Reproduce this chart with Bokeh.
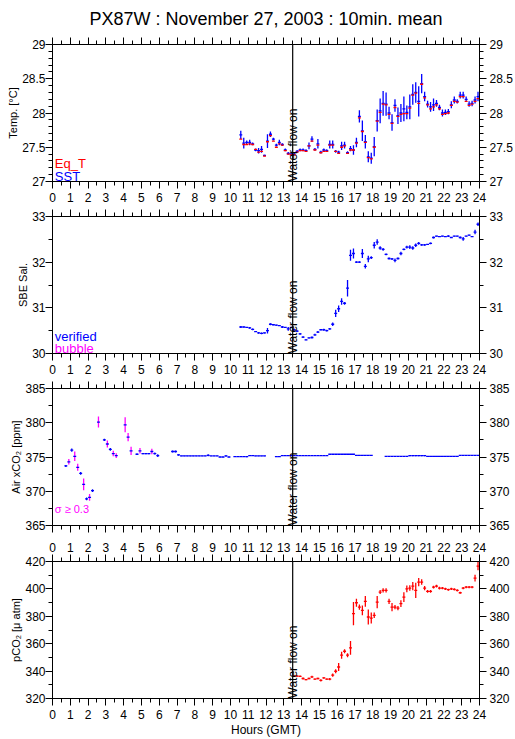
import numpy as np
from math import pi
from bokeh.plotting import figure
from bokeh.models import Range1d, LinearAxis, SingleIntervalTicker, Span, Label, ColumnDataSource
from bokeh.layouts import column
from bokeh.embed import file_html
from bokeh.resources import INLINE

# ---------------- data ----------------
TITLE = "PX87W : November 27, 2003 : 10min. mean"
X_LABEL = "Hours (GMT)"
HOURS = (0, 24)
WATER_ON = 13.5
WATER_TEXT = "Water flow on"
STEP_H = 1 / 6          # 10-minute means

# Panel 1 : temperature (SST blue with std, Eq_T red)
TEMP_START = 10.583
SST = [27.68, 27.56, 27.57, 27.57, 27.55, 27.46, 27.45, 27.47, 27.38, 27.59,
       27.69, 27.62, 27.53, 27.57, 27.54, 27.46, 27.41, 27.40,
       27.40, 27.44, 27.46, 27.46, 27.45, 27.52, 27.62, 27.47, 27.55, 27.43,
       27.46, 27.45, 27.54, 27.54, 27.44, 27.43, 27.52, 27.53, 27.42, 27.48,
       27.46, 27.57, 27.95, 27.74, 27.58, 27.36, 27.34, 27.51, 27.89, 28.03,
       28.14, 28.13, 28.00, 27.86, 28.11, 27.96, 28.00, 28.06, 28.01, 28.09,
       28.27, 28.30, 28.17, 28.43, 28.24, 28.13, 28.09, 28.12, 28.14, 28.08,
       28.00, 28.01, 28.02, 28.12, 28.19, 28.17, 28.26, 28.26, 28.20, 28.13,
       28.14, 28.19, 28.24]
SST_SD = [0.06, 0.08, 0.03, 0.04, 0.02, 0.02, 0.04, 0.05, 0.01, 0.10,
          0.04, 0.02, 0.02, 0.04, 0.02, 0.02, 0.02, 0.02,
          0.02, 0.02, 0.02, 0.02, 0.02, 0.05, 0.04, 0.02, 0.07, 0.02,
          0.02, 0.02, 0.06, 0.06, 0.02, 0.02, 0.06, 0.05, 0.02, 0.04,
          0.07, 0.07, 0.09, 0.15, 0.10, 0.08, 0.08, 0.14, 0.16, 0.18,
          0.18, 0.17, 0.09, 0.12, 0.09, 0.12, 0.13, 0.18, 0.10, 0.18,
          0.15, 0.15, 0.22, 0.14, 0.07, 0.05, 0.07, 0.09, 0.05, 0.04,
          0.05, 0.04, 0.04, 0.05, 0.05, 0.03, 0.05, 0.05, 0.04, 0.04,
          0.04, 0.05, 0.07]
EQT = [27.62, 27.54, 27.54, 27.55, 27.54, 27.47, 27.43, 27.44, 27.37, 27.58,
       27.67, 27.59, 27.50, 27.55, 27.53, 27.45, 27.40, 27.39,
       27.39, 27.43, 27.45, 27.45, 27.44, 27.52, 27.59, 27.46, 27.53, 27.42,
       27.44, 27.44, 27.53, 27.53, 27.44, 27.41, 27.50, 27.52, 27.41, 27.46,
       27.46, 27.56, 27.93, 27.73, 27.57, 27.35, 27.33, 27.50, 27.88, 28.01,
       28.13, 28.12, 27.98, 27.85, 28.08, 27.95, 27.98, 27.99, 27.99, 28.07,
       28.26, 28.29, 28.14, 28.42, 28.22, 28.12, 28.06, 28.09, 28.12, 28.06,
       27.98, 27.99, 28.00, 28.11, 28.17, 28.16, 28.24, 28.24, 28.17, 28.11,
       28.13, 28.17, 28.21]

# Panel 2 : SBE salinity (verified)
SAL_START = 10.583
SAL = [30.58, 30.58, 30.57, 30.56, 30.53, 30.48, 30.45, 30.44, 30.45, 30.50,
       30.64, 30.63, 30.62, 30.61, 30.58, 30.57, 30.54, 30.57,
       30.52, 30.49, 30.43, 30.36, 30.30, 30.34, 30.35, 30.41, 30.47, 30.52,
       30.52, 30.50, 30.54, 30.64, 30.88, 30.98, 31.14, 31.10, 31.43, 32.15,
       32.19, 32.00, 32.00, 32.19, 31.91, 32.07, 32.10, 32.37, 32.44, 32.31,
       32.28, 32.17, 32.08, 32.07, 32.04, 32.08, 32.19, 32.28, 32.33, 32.33,
       32.31, 32.37, 32.41, 32.38, 32.38, 32.39, 32.41, 32.54, 32.57, 32.56,
       32.57, 32.56, 32.57, 32.54, 32.57, 32.57, 32.54, 32.51, 32.57, 32.59,
       32.56, 32.66, 32.83]
SAL_SD = [0.02, 0.01, 0.01, 0.02, 0.02, 0.01, 0.02, 0.02, 0.01, 0.06,
          0.02, 0.01, 0.01, 0.01, 0.02, 0.01, 0.04, 0.01,
          0.02, 0.02, 0.02, 0.02, 0.01, 0.01, 0.02, 0.02, 0.02, 0.01,
          0.02, 0.02, 0.02, 0.04, 0.08, 0.07, 0.07, 0.03, 0.18, 0.12,
          0.11, 0.02, 0.02, 0.10, 0.05, 0.07, 0.03, 0.07, 0.06, 0.04,
          0.03, 0.02, 0.02, 0.02, 0.04, 0.02, 0.04, 0.02, 0.03, 0.04,
          0.04, 0.04, 0.03, 0.02, 0.02, 0.01, 0.02, 0.02, 0.01, 0.01,
          0.01, 0.01, 0.02, 0.01, 0.01, 0.01, 0.02, 0.04, 0.01, 0.01,
          0.01, 0.05, 0.04]

# Panel 3 : air xCO2 (None = no data)
AIR_START = 0.75
AIR = [373.7, 374.3, 376.0, 375.1, 373.5, 372.6, 371.0, 368.9, 369.1, 370.1,
       None, 380.1, None, 377.5, 376.9, 376.1, 375.5, 375.2, None, None,
       379.7, 377.9, 375.9, None, 375.4, 375.9, 375.5, 375.5, 375.5, 375.8,
       375.5, 375.2, None, None, None, None, 375.8, 375.8, 375.3, 375.15,
       375.15, 375.15, 375.15, 375.15, 375.15, 375.15, 375.15, 375.15, 375.25, 375.15,
       375.15, 375.15, 375.0, 375.0, 375.15, 375.0, None, 375.05, 375.05, 375.05,
       375.05, 375.05, 375.2, 375.2, 375.15, 375.15, 375.15, 375.15, None, None,
       None, 375.05, 375.05, 375.2, 375.2, 375.2, 375.2, 375.2, 375.2, 375.2,
       375.2, 375.2, 375.2, 375.2, 375.2, 375.2, 375.2, 375.2, 375.2, 375.4,
       375.4, 375.4, 375.4, 375.4, 375.4, 375.4, 375.4, 375.4, 375.25, 375.25,
       375.25, 375.25, 375.25, 375.25, None, None, None, None, 375.1, 375.1,
       375.1, 375.1, 375.1, 375.1, 375.1, 375.1, 375.2, 375.2, 375.2, 375.2,
       375.2, 375.2, 375.1, 375.1, 375.1, 375.1, 375.1, 375.1, 375.1, 375.1,
       375.1, 375.1, 375.1, 375.25, 375.25, 375.25, 375.25, 375.25, 375.25, 375.25]
AIR_SD = [0.15, 0.4, 0.25, 0.7, 0.5, 0.2, 0.85, 0.2, 0.5, 0.2,
          None, 0.8, None, 0.15, 0.5, 0.2, 0.4, 0.35, None, None,
          1.1, 0.6, 0.6, None, 0.1, 0.4, 0.1, 0.1, 0.1, 0.4,
          0.15, 0.2, None, None, None, None, 0.15, 0.15, 0.1, 0.05,
          0.03, 0.03, 0.03, 0.03, 0.03, 0.03, 0.03, 0.03, 0.15, 0.05,
          0.03, 0.03, 0.03, 0.03, 0.12, 0.03, None, 0.03, 0.03, 0.03,
          0.03, 0.1, 0.05, 0.03, 0.03, 0.03, 0.03, 0.03, None, None,
          None, 0.03, 0.03, 0.03, 0.03, 0.03, 0.03, 0.03, 0.03, 0.03,
          0.03, 0.03, 0.03, 0.03, 0.03, 0.03, 0.03, 0.03, 0.03, 0.03,
          0.03, 0.03, 0.03, 0.03, 0.03, 0.03, 0.03, 0.03, 0.03, 0.03,
          0.03, 0.03, 0.03, 0.03, None, None, None, None, 0.03, 0.03,
          0.03, 0.03, 0.03, 0.03, 0.03, 0.03, 0.08, 0.08, 0.08, 0.08,
          0.08, 0.08, 0.03, 0.03, 0.03, 0.03, 0.03, 0.03, 0.03, 0.03,
          0.03, 0.03, 0.03, 0.03, 0.03, 0.03, 0.03, 0.03, 0.03, 0.03]
SIGMA_FLAG = 0.3

# Panel 4 : pCO2 (seawater)
PCO2_START = 13.583
PCO2 = [336.4, 336.4, 336.2, 334.6, 333.8, 334.6, 335.8, 334.1, 334.6, 333.3,
        335.0, 334.1, 334.1, 337.0, 339.9, 343.0, 351.6, 354.5, 351.6, 356.9,
        381.9, 389.9, 386.7, 384.3, 390.9, 379.5, 378.7, 380.7, 390.4, 397.7,
        398.9, 398.9, 390.9, 386.7, 386.7, 386.0, 389.2, 394.0, 400.0, 400.6,
        402.0, 398.9, 405.0, 405.0, 400.6, 398.2, 398.2, 401.3, 402.0, 400.6,
        400.6, 400.0, 399.4, 400.0, 399.6, 398.9, 397.2, 400.6, 401.3, 401.3,
        401.3, 407.9, 416.6]
PCO2_SD = [0.5, 0.5, 0.5, 0.8, 0.5, 0.5, 0.8, 0.5, 0.5, 0.8,
           0.5, 0.5, 0.8, 1.2, 1.5, 3.0, 2.5, 1.5, 1.5, 5.0,
           8.5, 3.0, 2.0, 3.5, 4.0, 5.5, 4.0, 2.0, 4.5, 1.5,
           1.5, 1.5, 2.0, 3.0, 1.5, 1.5, 2.5, 3.5, 2.5, 2.0,
           3.0, 5.5, 3.0, 2.0, 1.5, 1.0, 1.0, 1.0, 1.0, 1.0,
           0.8, 0.8, 0.8, 0.8, 0.8, 0.8, 0.8, 0.8, 0.8, 0.8,
           0.8, 2.5, 3.0]

TEMP_TICKS = {27: "27", 27.5: "27.5", 28: "28", 28.5: "28.5", 29: "29"}

# ---------------- style ----------------
FONT = "Liberation Sans"
BLUE, RED, MAG = "#0000ff", "#ff0000", "#ff00ff"
LW = 1.3
FW, FH = 427, 137


def make_axis(ticker, labels, standoff, overrides=None, axis_label=None, label_standoff=0,
              label_size="11px"):
    ax = LinearAxis(ticker=ticker)
    ax.axis_line_color = "black"
    ax.major_tick_line_color = "black"
    ax.minor_tick_line_color = "black"
    ax.major_tick_out, ax.major_tick_in = 7, 0
    ax.minor_tick_out, ax.minor_tick_in = 4, 0
    ax.major_label_text_font = FONT
    if labels:
        ax.major_label_text_color = "black"
        ax.major_label_text_font_size = "12px"
        ax.major_label_standoff = standoff
    else:
        ax.major_label_text_color = None
        ax.major_label_text_font_size = "0px"
        ax.major_label_standoff = 0
    if overrides:
        ax.major_label_overrides = overrides
    if axis_label:
        ax.axis_label = axis_label
        ax.axis_label_text_font = FONT
        ax.axis_label_text_font_size = label_size
        ax.axis_label_text_font_style = "normal"
        ax.axis_label_text_color = "black"
        ax.axis_label_standoff = label_standoff
    return ax


def make_fig(yr, yint, yminor, btop, bbot, top_lab, bot_lab, ylabel, overrides=None, xlabel=None):
    p = figure(x_range=Range1d(*HOURS), y_range=Range1d(*yr), frame_width=FW, frame_height=FH,
               output_backend="svg", toolbar_location=None,
               x_axis_location=None, y_axis_location=None,
               min_border_left=52, min_border_right=34,
               min_border_top=btop, min_border_bottom=bbot)
    p.xgrid.grid_line_color = None
    p.ygrid.grid_line_color = None
    p.outline_line_color = "black"
    p.background_fill_color = "white"
    p.border_fill_color = "white"
    p.add_layout(make_axis(SingleIntervalTicker(interval=1, num_minor_ticks=2), top_lab, 3), "above")
    p.add_layout(make_axis(SingleIntervalTicker(interval=1, num_minor_ticks=2), bot_lab, 4,
                           axis_label=xlabel, label_standoff=1, label_size="12px"), "below")
    p.add_layout(make_axis(SingleIntervalTicker(interval=yint, num_minor_ticks=yminor), True, 0,
                           overrides, axis_label=ylabel, label_standoff=0), "left")
    p.add_layout(make_axis(SingleIntervalTicker(interval=yint, num_minor_ticks=yminor), True, 3,
                           overrides), "right")
    p.add_layout(Span(location=WATER_ON, dimension="height", line_color="black", line_width=1.2))
    p.add_layout(Label(x=WATER_ON, y=yr[0], text=WATER_TEXT, angle=pi / 2, text_align="left",
                       text_baseline="alphabetic", text_font=FONT, text_font_size="12px",
                       text_color="black"))
    return p


def crosses(p, start, vals, sds, hcolor, vcolors):
    v = np.array(vals, dtype=float)
    s = np.array(sds, dtype=float)
    t = start + STEP_H * np.arange(len(v))
    src = ColumnDataSource(dict(xc=t, x0=t - STEP_H / 2, x1=t + STEP_H / 2, y=v,
                                lo=v - s, hi=v + s, vc=vcolors))
    p.segment(x0="xc", y0="lo", x1="xc", y1="hi", source=src, line_color="vc", line_width=LW)
    p.segment(x0="x0", y0="y", x1="x1", y1="y", source=src, line_color=hcolor, line_width=LW)


def hbars(p, start, vals, color):
    v = np.array(vals, dtype=float)
    t = start + STEP_H * np.arange(len(v))
    src = ColumnDataSource(dict(x0=t - STEP_H / 2, x1=t + STEP_H / 2, y=v))
    p.segment(x0="x0", y0="y", x1="x1", y1="y", source=src, line_color=color, line_width=LW)


def legend_text(p, x, y, text, color, size="13px"):
    p.add_layout(Label(x=x, y=y, text=text, text_font=FONT, text_font_size=size,
                       text_color=color, text_baseline="alphabetic", text_align="left"))


# Panel 1
p1 = make_fig((27, 29), 0.5, 5, 44, 25, False, True, "Temp. [°C]", TEMP_TICKS)
crosses(p1, TEMP_START, SST, SST_SD, BLUE, [BLUE] * len(SST))
hbars(p1, TEMP_START, EQT, RED)
legend_text(p1, 0.13, 27.27, "Eq_T", RED)
legend_text(p1, 0.13, 27.07, "SST", BLUE)
p1.title.text = TITLE
p1.title.align = "center"
p1.title.vertical_align = "top"
p1.title.text_font = FONT
p1.title.text_font_size = "18px"
p1.title.text_font_style = "normal"
p1.title.text_color = "black"
p1.title.standoff = 14

# Panel 2
p2 = make_fig((30, 33), 1, 2, 10, 25, False, True, "SBE Sal.")
crosses(p2, SAL_START, SAL, SAL_SD, BLUE, [BLUE] * len(SAL))
legend_text(p2, 0.13, 30.37, "verified", BLUE)
legend_text(p2, 0.13, 30.11, "bubble", MAG)

# Panel 3
p3 = make_fig((365, 385), 5, 2, 10, 10, False, False, "Air xCO\u2082 [ppm]")
air_col = [MAG if (s is not None and s >= SIGMA_FLAG) else BLUE for s in AIR_SD]
crosses(p3, AIR_START, AIR, AIR_SD, BLUE, air_col)
legend_text(p3, 0.13, 367.4, "\u03c3 \u2265 0.3", MAG, "11px")

# Panel 4
p4 = make_fig((320, 420), 20, 2, 26, 40, True, True, "pCO\u2082 [\u03bc atm]", xlabel=X_LABEL)
crosses(p4, PCO2_START, PCO2, PCO2_SD, RED, [RED] * len(PCO2))

layout = column(p1, p2, p3, p4, spacing=0)
open("out.html", "w").write(file_html(layout, INLINE))
